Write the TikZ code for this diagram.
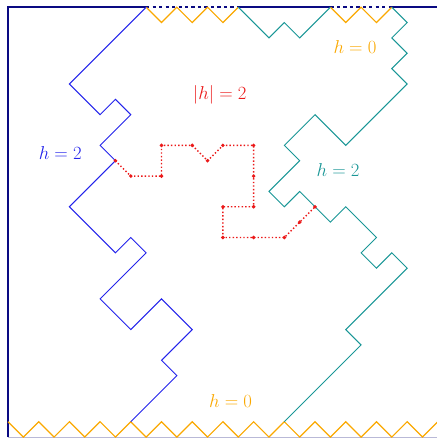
\documentclass[tikz,border=0pt]{standalone}
\usepackage{xcolor}
\usepackage{tikz}
\usetikzlibrary{positioning}
\definecolor{wallnavy}{RGB}{10, 10, 130}
\definecolor{hblue}{RGB}{35, 35, 235}
\definecolor{hteal}{RGB}{25, 150, 150}
\definecolor{horange}{RGB}{250, 168, 0}
\definecolor{hred}{RGB}{235, 25, 25}
\definecolor{floorgray}{RGB}{185, 185, 215}
\tikzset{
  wall/.style={line width=1.6pt, color=wallnavy},
  openwall/.style={line width=1.6pt, color=wallnavy, dashed, dash pattern=on 3pt off 3pt},
  zig/.style={line width=1.1pt, color=horange, line join=miter},
  contour/.style={line width=0.9pt, color=#1, line join=miter},
  dualpath/.style={line width=1.3pt, color=hred, dotted},
  dualdot/.style={circle, fill=hred, inner sep=0pt, minimum size=3.6pt},
  lbl/.style={font=\fontsize{18}{20}\selectfont, text=#1}
}

\begin{document}
\begin{tikzpicture}[x=0.5cm, y=0.5cm]
\useasboundingbox (-0.52,-0.06) rectangle (27.88,28.47);

% ── Boundary ─────────────────────────────────────────────
\draw[floorgray, line width=1pt] (0,0) -- (28,0);
\draw[wall] (0,0) -- (0,28) -- (9,28);
\draw[openwall] (9,28) -- (15,28);
\draw[wall] (15,28) -- (21,28);
\draw[openwall] (21,28) -- (25,28);
\draw[wall] (25,28) -- (28,28);

% ── Zigzags (h = 0) ──────────────────────────────────────
\draw[zig] (0,1) \foreach \k in {1,...,28} { -- (\k,{1-mod(\k,2)}) };
\draw[zig] (9,28) -- (10,27) -- (11,28) -- (12,27) -- (13,28) -- (14,27) -- (15,28);
\draw[zig] (21,28) -- (22,27) -- (23,28) -- (24,27) -- (25,28);

% ── Level lines ──────────────────────────────────────────
\draw[contour=hblue] (9,28) -- (4,23) -- (6,21) -- (7,22) -- (8,21) -- (6,19)
  -- (7,18) -- (4,15) -- (7,12) -- (8,13) -- (9,12) -- (6,9) -- (8,7)
  -- (10,9) -- (12,7) -- (10,5) -- (11,4) -- (8,1);
\draw[contour=hteal] (15,28) -- (17,26) -- (18,27) -- (19,26) -- (21,28);
\draw[contour=hteal] (25,28) -- (26,27) -- (25,26) -- (26,25) -- (25,24)
  -- (26,23) -- (22,19) -- (20,21) -- (18,19) -- (19,18) -- (17,16)
  -- (18,15) -- (19,16) -- (21,14) -- (22,15) -- (24,13) -- (23,12)
  -- (24,11) -- (25,12) -- (26,11) -- (22,7) -- (23,6) -- (18,1);

% ── Dual path ────────────────────────────────────────────
\foreach \x/\y [count=\n] in {7/18, 8/17, 10/17, 10/19, 12/19, 13/18,
  14/19, 16/19, 16/17, 16/15, 14/15, 14/13, 16/13, 18/13, 19/14, 20/15}
  \coordinate (d\n) at (\x,\y);
\draw[dualpath] (d1) \foreach \n in {2,...,16} { -- (d\n) };
\foreach \n in {1,...,16}
  \node[dualdot] at (d\n) {};

% ── Labels ───────────────────────────────────────────────
\node[lbl=hred]    (habs)   at (13.8,22.3) {$|h|=2$};
\node[lbl=hblue]   (hleft)  at (3.4,18.5)  {$h=2$};
\node[lbl=hteal]   (hright) at (21.5,17.4) {$h=2$};
\node[lbl=horange] (htop)   at (22.6,25.4) {$h=0$};
\node[lbl=horange] (hbot)   at (14.5,2.35) {$h=0$};

\end{tikzpicture}
\end{document}
